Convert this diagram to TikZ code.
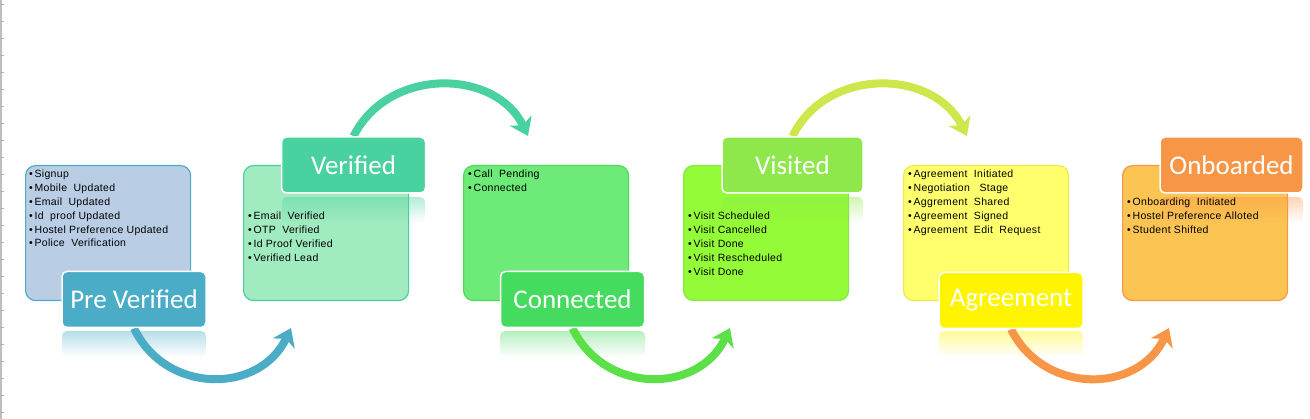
\documentclass[tikz,border=0pt]{standalone}
\usepackage{fontspec}
\setmainfont{Liberation Sans}
\newfontfamily\labelfont{Carlito}
\newfontfamily\itemfont[LetterSpace=3]{Liberation Sans}
\usepackage{xcolor}
\usetikzlibrary{arrows.meta, positioning, calc, fadings}

\definecolor{pvbody}{HTML}{B9CDE5}
\definecolor{pvline}{HTML}{4BACC6}
\definecolor{pvhead}{HTML}{4AACC6}
\definecolor{vbody}{HTML}{A0EBBF}
\definecolor{vline}{HTML}{4BCE9A}
\definecolor{vhead}{HTML}{49D19F}
\definecolor{cbody}{HTML}{6EEA78}
\definecolor{cline}{HTML}{4ADB5A}
\definecolor{chead}{HTML}{45DB5E}
\definecolor{vibody}{HTML}{94FB38}
\definecolor{viline}{HTML}{8BE445}
\definecolor{vihead}{HTML}{8EE84B}
\definecolor{agbody}{HTML}{FFFF6E}
\definecolor{agline}{HTML}{EDE84E}
\definecolor{aghead}{HTML}{FFF500}
\definecolor{obbody}{HTML}{FCC453}
\definecolor{obline}{HTML}{F79646}
\definecolor{obhead}{HTML}{F79646}
\definecolor{arrowc}{HTML}{5BE048}
\definecolor{arrowvi}{HTML}{CCE84C}

\tikzfading[name=reflfade, top color=transparent!60, bottom color=transparent!100]

\pgfdeclarelayer{back}
\pgfdeclarelayer{mid}
\pgfsetlayers{back,mid,main}

\tikzset{
  stagebox/.style={rectangle, rounded corners=10pt, line width=1.2pt,
    minimum width=165pt, minimum height=135pt, anchor=north west, inner sep=0pt},
  stagehead/.style={rectangle, rounded corners=5pt, draw=white, line width=1.5pt,
    minimum width=144pt, minimum height=56pt, text=white,
    font=\labelfont\fontsize{27}{27}\selectfont},
  items/.style={anchor=north west, inner sep=0pt, align=left,
    font=\itemfont\fontsize{10.5}{13.8}\selectfont},
  flow/.style={line width=8pt, -{Stealth[length=17pt, width=24pt, inset=5pt]}},
}
\newcommand{\itm}{\textbullet\,}

\begin{document}
\begin{tikzpicture}[x=1pt, y=-1pt]
		\useasboundingbox (0,0) rectangle (1310,419);
		
		% sheet edge
		\draw[gray!50, line width=1.5pt] (1,0) -- (1,419);
		\foreach \t in {4,21,38,55,72,89,106,123,140,157,174,191,208,225,242,259,276,293,310,327,344,361,378,395,412}
			\draw[gray!60, line width=0.8pt] (0,\t) -- (4,\t);
		
		\begin{pgfonlayer}{back}
		% Stage boxes
		\node[stagebox, fill=pvbody, draw=pvline] (pvbox) at (25,165) {};
		\node[stagebox, fill=vbody, draw=vline] (vbox) at (243,165) {};
		\node[stagebox, fill=cbody, draw=cline] (cbox) at (463,165) {};
		\node[stagebox, fill=vibody, draw=viline] (vibox) at (683,165) {};
		\node[stagebox, fill=agbody, draw=agline] (agbox) at (903,165) {};
		\node[stagebox, fill=obbody, draw=obline] (obbox) at (1122,165) {};
		
		% Reflections
		\fill[pvhead, path fading=reflfade, rounded corners=5pt] (62,331) rectangle (206,357);
		\fill[vhead, path fading=reflfade, rounded corners=5pt] (282,197) rectangle (425,223);
		\fill[chead, path fading=reflfade, rounded corners=5pt] (500,331) rectangle (645,357);
		\fill[vihead, path fading=reflfade, rounded corners=5pt] (722,197) rectangle (863,223);
		\fill[aghead, path fading=reflfade, rounded corners=5pt] (939,331) rectangle (1083,357);
		\fill[obhead, path fading=reflfade, rounded corners=5pt] (1160,197) rectangle (1303,223);
		\end{pgfonlayer}
		
		% Stage names
		\node[stagehead, fill=pvhead] (pvlabel) at (134,299.5) {Pre Verified};
		\node[stagehead, fill=vhead] (vlabel) at (353.5,165) {Verified};
		\node[stagehead, fill=chead] (clabel) at (572.5,299.5) {Connected};
		\node[stagehead, fill=vihead, minimum width=141pt] (vilabel) at (792.5,165) {Visited};
		\node[stagehead, fill=aghead] (aglabel) at (1011,300.5) {Agreement};
		\node[stagehead, fill=obhead, minimum width=143pt] (oblabel) at (1231.5,165) {Onboarded};
		
		% Arrow ends
		\coordinate (vin) at (291,328);
		\coordinate (cin) at (528,136);
		\coordinate (viin) at (730,328);
		\coordinate (agin) at (967,136);
		\coordinate (obin) at (1169,328);
		
		% Flow arrows
		\begin{pgfonlayer}{mid}
		\draw[flow, pvline] (pvlabel.south) .. controls (166,395) and (260,394) .. (vin);
		\draw[flow, vhead] (vlabel.north) .. controls (389,66) and (496,69) .. (cin);
		\draw[flow, arrowc] (clabel.south) .. controls (605,395) and (699,394) .. (viin);
		\draw[flow, arrowvi] (vilabel.north) .. controls (827,66) and (934,69) .. (agin);
		\draw[flow, obline] (aglabel.south) .. controls (1044,395) and (1138,394) .. (obin);
		\end{pgfonlayer}
		
		% Stage items
		\node[items] (pvlist) at (29,170) {\itm Signup\\\itm Mobile\ \ Updated\\\itm Email\ \ Updated\\\itm Id\ \ proof Updated\\\itm Hostel\ Preference\ Updated\\\itm Police\ \ Verification};
		\node[items] (vlist) at (248,212) {\itm Email\ \ Verified\\\itm OTP\ \ Verified\\\itm Id\ Proof Verified\\\itm Verified Lead};
		\node[items] (clist) at (468,170) {\itm Call\ \ Pending\\\itm Connected};
		\node[items] (vilist) at (688,212) {\itm Visit Scheduled\\\itm Visit Cancelled\\\itm Visit Done\\\itm Visit Rescheduled\\\itm Visit Done};
		\node[items] (aglist) at (908,170) {\itm Agreement\ \ Initiated\\\itm Negotiation\ \ \ Stage\\\itm Aggrement\ \ Shared\\\itm Agreement\ \ Signed\\\itm Agreement\ \ Edit\ \ Request};
		\node[items] (oblist) at (1127,198) {\itm Onboarding\ \ Initiated\\\itm Hostel Preference\ Alloted\\\itm Student Shifted};
	\end{tikzpicture}
\end{document}
